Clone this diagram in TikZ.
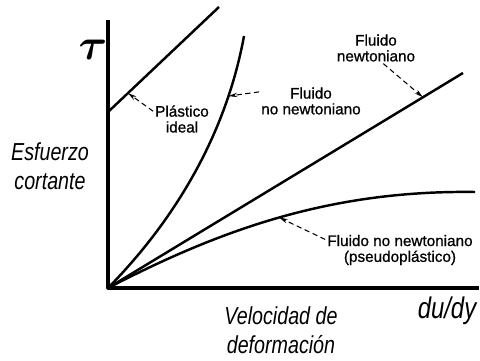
\documentclass[tikz,border=0pt]{standalone}
\usepackage{bm}
\usepackage{fontspec}
\setmainfont{Liberation Sans}
\newfontfamily\axisfont[FakeStretch=0.8]{Liberation Sans}
\newfontfamily\tagfont[FakeBold=0.8]{Liberation Sans}
\usetikzlibrary{arrows.meta,positioning,calc}

\begin{document}
\begin{tikzpicture}[line join=round, x=0.02cm, y=-0.02cm,
  axisline/.style={line width=1.8pt},
  curve/.style={line width=1.4pt},
  tag/.style={font=\tagfont\fontsize{8.7}{9}\selectfont, align=center, inner sep=1pt},
  axislabel/.style={font=\axisfont\itshape\fontsize{14}{16.5}\selectfont, align=center, inner sep=0pt},
  pointer/.style={densely dashed, line width=0.6pt, -{Stealth[length=5pt,width=2.5pt]}}]
\useasboundingbox (0,0) rectangle (480,361);
\coordinate (O) at (108,288);
\coordinate (Ytop) at (108,20);
\coordinate (Xend) at (479,288);
\draw[axisline] (Ytop) -- (O) -- (Xend);
% axis labels
\node[font=\fontsize{24}{24}\selectfont] (tau) at (93,50) {$\bm{\tau}$};
\node[axislabel] (stress) at (50,166) {Esfuerzo\\cortante};
\node[axislabel] (rate) at (281,330) {Velocidad de\\deformación};
\node[axislabel, font=\axisfont\itshape\fontsize{17}{17}\selectfont] (dudy) at (447,311) {du/dy};
% curves
\draw[curve] (108,112) -- (219,7) coordinate[pos=0.18] (pPlast);
\draw[curve] (O) .. controls (170,225) and (225,140) .. (244,36) coordinate[pos=0.8] (pDilat);
\draw[curve] (O) -- (463,73) coordinate[pos=0.887] (pNewt);
\draw[curve] (O) .. controls (220,230) and (330,190) .. (475,192) coordinate[pos=0.5] (pPseudo);
% labels
\node[tag] (plastLbl) at (182,119) {Plástico\\ideal};
\node[tag] (dilatLbl) at (311,101) {Fluido\\no newtoniano};
\node[tag] (newtLbl) at (376,48) {Fluido\\newtoniano};
\node[tag] (pseudoLbl) at (400,250) {Fluido no newtoniano\\(pseudoplástico)};
\draw[pointer] (plastLbl.165) -- (pPlast);
\draw[pointer] (dilatLbl.170) -- (pDilat);
\draw[pointer] (newtLbl.-65) -- (pNewt);
\draw[pointer] (pseudoLbl.172) -- (pPseudo);
\end{tikzpicture}
\end{document}
